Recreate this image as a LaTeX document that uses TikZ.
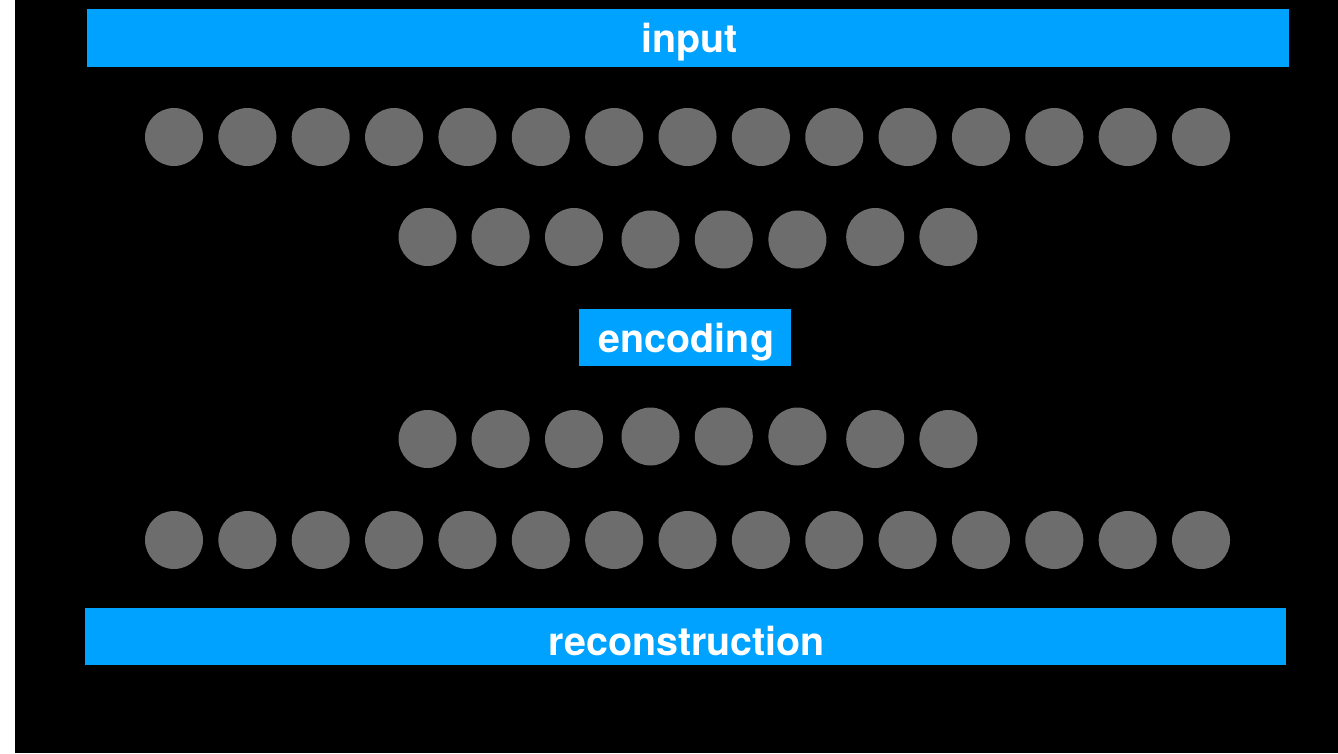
\documentclass[tikz,border=0pt]{standalone}
\usepackage{fontspec}
\setmainfont{TeX Gyre Heros}
\definecolor{barblue}{HTML}{00A2FF}
\definecolor{dotgray}{HTML}{6D6D6D}
\begin{document}
\begin{tikzpicture}[x=1pt,y=-1pt,
  dot/.style={circle,fill=dotgray,draw=none,minimum size=58pt,inner sep=0pt},
  bar/.style={fill=barblue,draw=none,inner sep=0pt},
  bartext/.style={text=white,inner sep=0pt,yshift=-4.5pt,xshift=1.5pt,
    font=\fontsize{39.4}{47}\selectfont\bfseries}]
\fill[white] (0,0) rectangle (1338,753);
\fill[black] (15,0) rectangle (1338,753);
\useasboundingbox (0,0) rectangle (1338,753);
% bars
\node[bar,minimum width=1202pt,minimum height=58pt] (input) at (688,38) {};
\node[bartext] (inputtext) at (input.center) {input};
\node[bar,minimum width=212pt,minimum height=57pt] (encoding) at (685,337.5) {};
\node[bartext] (encodingtext) at (encoding.center) {encoding};
\node[bar,minimum width=1201pt,minimum height=57pt] (recon) at (685.5,636.8) {};
\node[bartext] (recontext) at (recon.center) {reconstruction};
% outer rows
\foreach \i in {0,...,14}{
  \node[dot] (a\i) at ({174+73.36*\i},137) {};
  \node[dot] (d\i) at ({174+73.36*\i},540) {};
}
% inner rows
\foreach \x/\dy [count=\j] in {427.5/0,500.6/0,574/0,650.5/2.5,723.8/2.5,797.4/2.5,875.2/0,948.4/0}{
  \node[dot] (b\j) at (\x,{237+\dy}) {};
  \node[dot] (c\j) at (\x,{439-\dy}) {};
}
\end{tikzpicture}
\end{document}
